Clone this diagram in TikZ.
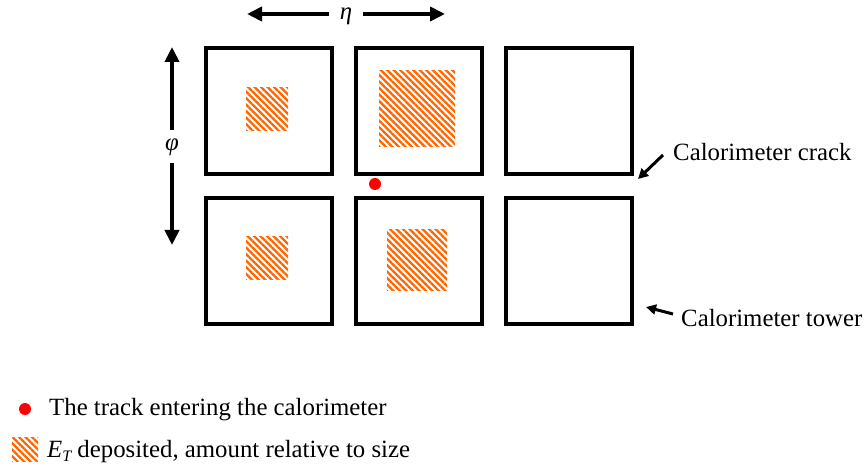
\documentclass[tikz,border=0pt]{standalone}
\usepackage{fontspec}
\setmainfont{Liberation Serif}
\usetikzlibrary{arrows.meta,patterns.meta}
\definecolor{hatchorange}{RGB}{255,102,0}
\definecolor{dotred}{RGB}{255,0,0}
\tikzset{
  tower/.style={draw=black,line width=4pt,minimum width=126pt,minimum height=126pt,inner sep=0pt,fill=white},
  deposit/.style={inner sep=0pt,draw=none,pattern={Lines[angle=-45,distance=4.6pt,line width=2.3pt]},pattern color=hatchorange},
  axisarrow/.style={line width=4pt,-{Triangle[length=15pt,width=14pt]}},
  callout/.style={line width=3pt,-{Triangle[length=10pt,width=10pt]}},
  lbl/.style={font=\fontsize{24.8}{29}\selectfont,inner sep=0pt},
  trackdot/.style={circle,fill=dotred,minimum size=12pt,inner sep=0pt}
}
\begin{document}
\begin{tikzpicture}[x=1pt,y=-1pt]
\useasboundingbox (0,0) rectangle (867,470);
% towers
\node[tower] (t1) at (269,111) {};
\node[tower] (t2) at (418.5,111) {};
\node[tower] (t3) at (568.5,111) {};
\node[tower] (b1) at (269,261) {};
\node[tower] (b2) at (418.5,261) {};
\node[tower] (b3) at (568.5,261) {};
% deposits
\node[deposit,minimum width=42pt,minimum height=43pt] (d1) at (267,109.5) {};
\node[deposit,minimum width=76pt,minimum height=76pt] (d2) at (417,109) {};
\node[deposit,minimum width=42pt,minimum height=43pt] (d3) at (267,258.5) {};
\node[deposit,minimum width=60pt,minimum height=60pt] (d4) at (417,260) {};
% track
\node[trackdot] (trk) at (375,184) {};
% eta axis
\node[lbl,font=\fontsize{24.8}{29}\selectfont\itshape] (eta) at (346,16) {η};
\coordinate (etaLs) at (329,14);
\coordinate (etaL) at (247,14);
\coordinate (etaRs) at (363,14);
\coordinate (etaR) at (445,14);
\draw[axisarrow] (etaLs) -- (etaL);
\draw[axisarrow] (etaRs) -- (etaR);
% phi axis
\node[lbl,font=\fontsize{24.8}{29}\selectfont\itshape] (phi) at (172,147) {φ};
\coordinate (phiTs) at (172,130);
\coordinate (phiT) at (172,47);
\coordinate (phiBs) at (172,163);
\coordinate (phiB) at (172,245);
\draw[axisarrow] (phiTs) -- (phiT);
\draw[axisarrow] (phiBs) -- (phiB);
% callouts
\node[lbl,anchor=west] (crack) at (673,152) {Calorimeter crack};
\node[lbl,anchor=west] (towerlbl) at (681,318) {Calorimeter tower};
\coordinate (crackTail) at (663,155);
\coordinate (crackTip) at (638,179);
\coordinate (towerTail) at (673,314);
\coordinate (towerTip) at (646,307);
\draw[callout] (crackTail) -- (crackTip);
\draw[callout] (towerTail) -- (towerTip);
% legend
\node[trackdot] (ldot) at (25,409) {};
\node[lbl,anchor=west] (ltrack) at (49,410) {The track entering the calorimeter};
\node[deposit,minimum width=26pt,minimum height=24pt] (lhatch) at (25,449.5) {};
\node[lbl,anchor=west] (ldep) at (47,452) {\textit{E}\raisebox{-0.35ex}{\fontsize{16}{18}\selectfont\itshape T} deposited, amount relative to size};
\end{tikzpicture}
\end{document}
